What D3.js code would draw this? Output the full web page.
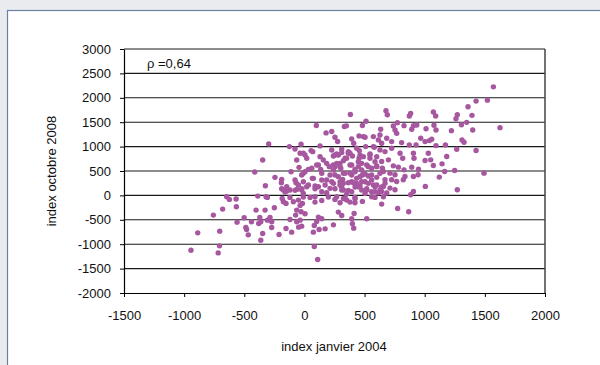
<!DOCTYPE html>
<html>
<head>
<meta charset="utf-8">
<script src="https://cdn.jsdelivr.net/npm/d3@7"></script>
<style>
  html, body { margin: 0; padding: 0; background: #e9ebef; }
  svg { display: block; }
  text { font-family: "Liberation Sans", Arial, sans-serif; fill: #111; }
</style>
</head>
<body>
<svg id="chart" width="600" height="365"></svg>
<script>
// index janvier 2004 (x) / index octobre 2008 (y)
const points = [
  [-297,1055],[-125,1000],[-78,952],[-28,1048],[-36,863],[-9,863],[-64,726],[-347,726],[-413,480],[-45,575],
  [-111,486],[-23,418],[-245,370],[-189,329],[-192,260],[-70,260],[-50,212],[-325,199],[-64,123],[-175,110],
  [-147,89],[-120,110],[-23,110],[-388,-14],[-319,-27],[-308,-41],[-646,-27],[-624,-82],[-568,-75],[-120,-41],
  [-175,-130],[-153,-164],[-92,-130],[-50,-96],[-17,-164],[-250,-253],[-566,-233],[-680,-281],[-757,-404],[-64,-301],
  [-28,-335],[-402,-301],[-327,-301],[-501,-459],[-440,-541],[-560,-548],[-371,-452],[-363,-541],[-308,-507],[-286,-452],
  [-272,-541],[-380,-575],[-120,-493],[-64,-541],[-36,-507],[-73,-404],[-48,-651],[-23,-630],[-487,-658],[-481,-699],
  [-272,-658],[-153,-678],[-211,-801],[-347,-781],[-106,-753],[-467,-808],[-704,-733],[-887,-767],[-363,-918],[-706,-1034],
  [-943,-1123],[-717,-1178],[-185,-62],
  [382,1658],[99,1431],[180,1281],[227,1308],[254,1192],[276,1103],[332,1411],[349,1425],[482,1431],[512,1521],
  [490,1205],[393,1157],[410,1068],[454,1219],[504,1192],[573,1205],[615,1137],[130,1014],[55,918],[19,760],
  [227,931],[254,829],[310,877],[365,897],[434,966],[509,1000],[581,986],[642,1068],[338,760],[399,808],
  [454,760],[545,760],[601,794],[116,623],[185,657],[254,589],[296,657],[393,623],[476,657],[531,589],
  [601,589],[648,555],[5,486],[33,534],[-78,315],[-9,281],[66,349],[144,315],[213,418],[282,384],
  [338,452],[421,486],[482,418],[559,418],[628,452],[88,192],[172,212],[241,247],[324,247],[393,281],
  [462,192],[531,247],[587,178],[-147,178],[19,178],
  [-189,137],[-161,68],[-78,103],[-22,137],[88,137],[254,137],[310,171],[365,103],[421,171],[518,137],
  [642,171],[-9,-34],[-36,-205],[5,-377],[88,-137],[144,-103],[199,-34],[254,-82],[296,-151],[338,-55],
  [379,-137],[421,-68],[482,-123],[282,-342],[310,-411],[116,-445],[144,-480],[102,-534],[82,-616],[74,-753],
  [122,-699],[172,-685],[241,-603],[393,-480],[399,-582],[410,-671],[518,-480],[82,-1048],[110,-1315],
  [1571,2224],[1521,1952],[1427,1932],[1360,1816],[1393,1640],[1271,1653],[1260,1572],[1072,1708],[1091,1626],[883,1680],
  [872,1626],[678,1735],[689,1653],[773,1490],[739,1422],[753,1340],[767,1272],[828,1429],[906,1429],[934,1442],
  [892,1354],[1011,1367],[1077,1436],[1094,1340],[1222,1327],[1305,1449],[1349,1497],[1399,1340],[1626,1388],[634,1354],
  [628,1238],[684,1170],[725,1102],[808,1082],[872,1034],[928,1034],[967,1170],[1003,1102],[1039,1123],[1058,1150],
  [1094,1021],[1172,1034],[1310,1136],[1327,1089],[1266,946],[1427,919],[628,932],[670,898],[725,966],[795,864],
  [817,762],[906,864],[911,762],[1003,715],[1030,864],[1050,728],[1072,613],[1144,647],[1183,796],[642,694],
  [698,728],[739,606],[781,579],[828,524],[892,579],[948,538],[945,422],[906,388],[836,388],[822,320],
  [1121,375],[1166,490],[1249,511],[1493,456],[1005,184],[906,82],[883,14],[1271,116],[656,490],[711,456],
  [753,422],[670,320],[725,320],[767,286],[656,184],[711,150],[753,116],[684,48],[642,82],
  [268,849],[365,863],[462,829],[545,849],[296,589],[379,623],[448,589],[518,623],[601,603],[254,418],
  [324,452],[393,418],[462,384],[531,397],[601,370],[296,281],[365,260],[434,247],[504,281],[573,212],
  [324,110],[393,75],[476,110],[559,75],[628,110],[268,-27],[351,-96],[420,-151],[559,-27],[642,-178],
  [614,55],[775,-267],[867,-336],[413,-370],[240,623],
  [69,897],[241,808],[310,945],[379,863],[456,918],[490,794],[573,1000],[102,623],[157,726],[207,589],
  [268,657],[324,712],[448,692],[587,692],[-9,452],[74,349],[144,452],[185,315],[318,329],[379,452],
  [434,349],[504,438],[559,315],[33,212],[116,178],[213,144],[296,212],[448,178],[518,110],[601,212],
  [-9,41],[88,-27],[185,55],[351,27],[420,-41],[504,41],[587,-41],
  [5,829],[130,794],[282,829],[351,760],[545,829],[61,555],[135,534],[241,520],[302,555],[420,534],
  [476,520],[559,555],[227,281],[407,260],[476,281],[670,247],[144,75],[310,110],[587,75],[47,-41],
  [324,-62],[656,-27]
];

const xTicks = [-1500, -1000, -500, 0, 500, 1000, 1500, 2000];
const yTicks = [-2000, -1500, -1000, -500, 0, 500, 1000, 1500, 2000, 2500, 3000];
const xTitle = "index janvier 2004";
const yTitle = "index octobre 2008";
const rhoLabel = "ρ =0,64";

const svg = d3.select("#chart");

// white panel with the thin blue frame
svg.append("rect")
  .attr("x", 7.5).attr("y", 10.5)
  .attr("width", 620).attr("height", 380)
  .attr("fill", "#fff")
  .attr("stroke", "#6b80a6")
  .attr("stroke-width", 1.2);

const plotL = 124, plotR = 545, plotT = 49, plotB = 293;

const x = d3.scaleLinear().domain([-1500, 2000]).range([plotL, plotR]);
const y = d3.scaleLinear().domain([-2000, 3000]).range([plotB, plotT]);

// horizontal grid
svg.append("g")
  .selectAll("line")
  .data(yTicks.filter(v => v > -2000))
  .join("line")
  .attr("x1", plotL).attr("x2", plotR)
  .attr("y1", d => y(d)).attr("y2", d => y(d))
  .attr("stroke", "#1a1a1a")
  .attr("stroke-width", 1.1);

// right frame line
svg.append("line")
  .attr("x1", plotR).attr("x2", plotR)
  .attr("y1", plotT).attr("y2", plotB)
  .attr("stroke", "#444")
  .attr("stroke-width", 1.5);

const fmt = d => String(d);

const xAxis = svg.append("g")
  .attr("transform", `translate(0,${plotB})`)
  .call(d3.axisBottom(x).tickValues(xTicks).tickFormat(fmt)
    .tickSize(4).tickSizeOuter(0).tickPadding(14));

const yAxis = svg.append("g")
  .attr("transform", `translate(${plotL},0)`)
  .call(d3.axisLeft(y).tickValues(yTicks).tickFormat(fmt)
    .tickSize(4).tickSizeOuter(0).tickPadding(9));

[xAxis, yAxis].forEach(a => {
  a.select(".domain").attr("stroke", "#000").attr("stroke-width", 1.2);
  a.selectAll(".tick line").attr("stroke", "#000");
  a.selectAll(".tick text")
    .attr("font-size", 13)
    .attr("font-family", "Liberation Sans, Arial, sans-serif")
    .attr("fill", "#111");
});

// points
svg.append("g")
  .selectAll("circle")
  .data(points)
  .join("circle")
  .attr("cx", d => x(d[0]))
  .attr("cy", d => y(d[1]))
  .attr("r", 2.7)
  .attr("fill", "#a6579f");

svg.append("text")
  .attr("x", 147).attr("y", 68)
  .attr("font-size", 13)
  .text(rhoLabel);

svg.append("text")
  .attr("x", (plotL + plotR) / 2 - 0.5).attr("y", 351)
  .attr("text-anchor", "middle")
  .attr("font-size", 13)
  .text(xTitle);

svg.append("text")
  .attr("transform", `translate(56,${(plotT + plotB) / 2}) rotate(-90)`)
  .attr("text-anchor", "middle")
  .attr("font-size", 13)
  .text(yTitle);
</script>
</body>
</html>
